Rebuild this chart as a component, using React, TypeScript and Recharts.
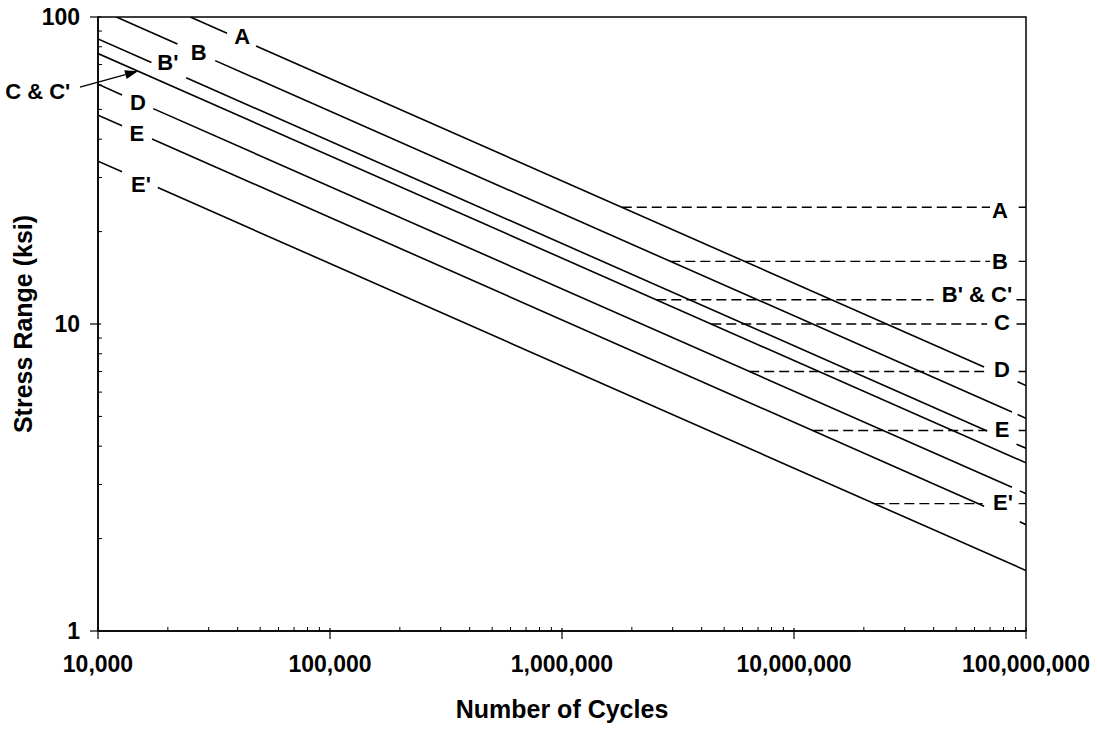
import { ComposedChart, Line, XAxis, YAxis, ReferenceDot, ReferenceLine, ReferenceArea } from 'recharts'

const FONT = '"Liberation Sans", Arial, Helvetica, sans-serif'

// S-N curves per detail category: [cycles, stress range ksi]; null breaks the line around a label
type Pt = [number, number] | null

const curveA: Pt[] = [[25000, 100], [36000, 88.5], null, [48000, 80.5], [66000000, 7.24], null, [92000000, 6.48], [100000000, 6.3]]
const curveB: Pt[] = [[12000, 100], [22000, 81.7], null, [32000, 72.1], [87000000, 5.17], null, [92000000, 5.07], [100000000, 4.93]]
const curveBPrime: Pt[] = [[10000, 84.8], [17000, 71.1], null, [24000, 63.4], [68000000, 4.48], null, [91000000, 4.06], [100000000, 3.94]]
const curveC: Pt[] = [[10000, 76.05], [100000000, 3.53]]
const curveD: Pt[] = [[10000, 60.4], [12700, 55.75], null, [17300, 50.3], [87000000, 2.94], null, [94000000, 2.86], [100000000, 2.8]]
const curveE: Pt[] = [[10000, 47.9], [12700, 44.25], null, [17100, 40.07], [66000000, 2.55], null, [94000000, 2.27], [100000000, 2.22]]
const curveEPrime: Pt[] = [[10000, 33.9], [12700, 31.32], null, [18100, 27.82], [100000000, 1.574]]

const curves = [curveA, curveB, curveBPrime, curveC, curveD, curveE, curveEPrime]

// constant amplitude fatigue thresholds (dashed), A, B, B'&C', C, D, E, E'
const thresholds = [24, 16, 12, 10, 7, 4.5, 2.6]
const thresholdStart = [1810000, 2930000, 2550000, 4400000, 6410000, 12100000, 22200000]
const thresholdGapFrom = [70000000, 70000000, 40000000, 68000000, 66000000, 68000000, 65000000]
const thresholdGapTo = [93000000, 93000000, 91000000, 91000000, 93000000, 93000000, 93000000]
const N_MAX = 100000000

// category labels anchored in data space
const leftLabels = [
  { text: 'A', n: 41800, s: 86.7 },
  { text: 'B', n: 27200, s: 76.9 },
  { text: "B'", n: 20000, s: 71.3 },
  { text: 'D', n: 14870, s: 52.8 },
  { text: 'E', n: 14700, s: 41.8 },
  { text: "E'", n: 15320, s: 28.5 },
]
const rightLabels = [
  { text: 'A', n: 77300000, s: 23.5 },
  { text: 'B', n: 77300000, s: 16.0 },
  { text: "B' & C'", n: 61500000, s: 12.5 },
  { text: 'C', n: 78800000, s: 10.1 },
  { text: 'D', n: 78800000, s: 7.1 },
  { text: 'E', n: 78800000, s: 4.53 },
  { text: "E'", n: 79600000, s: 2.62 },
]
const cLabel = { text: "C & C'", n: 5500, s: 57.5 }
const cArrow = { from: { n: 8360, s: 59.1 }, to: { n: 14870, s: 66.6 } }

const xMajor = [10000, 100000, 1000000, 10000000, 100000000]
const yMajor = [1, 10, 100]
const minorSteps = [2, 3, 4, 5, 6, 7, 8, 9]
const xMinor = xMajor.slice(0, -1).flatMap(d => minorSteps.map(m => d * m))
const yMinor = yMajor.slice(0, -1).flatMap(d => minorSteps.map(m => d * m))

const toSeries = (pts: Pt[]) => {
  const out: { n: number; s: number | null }[] = []
  pts.forEach((p, i) => {
    if (p) out.push({ n: p[0], s: p[1] })
    else out.push({ n: (pts[i - 1] as [number, number])[0], s: null })
  })
  return out
}

const thresholdSeries = thresholds.map((s, i) =>
  toSeries([[thresholdStart[i], s], [thresholdGapFrom[i], s], null, [thresholdGapTo[i], s], [N_MAX, s]])
)

const tickFont = { fontFamily: FONT, fontSize: 23, fontWeight: 700, fill: '#000' }
const titleFont = { fontFamily: FONT, fontSize: 25, fontWeight: 700, fill: '#000' }

const XTick = (props: any) => {
  const { x, y, payload } = props
  const v = payload.value
  if (xMajor.includes(v)) {
    return (
      <g>
        <line x1={x} x2={x} y1={y - 3} y2={y + 8} stroke="#000" strokeWidth={1.2} />
        <text x={x} y={y + 33} dy="0.36em" textAnchor="middle" style={tickFont}>
          {v.toLocaleString('en-US')}
        </text>
      </g>
    )
  }
  return <line x1={x} x2={x} y1={y} y2={y - 4} stroke="#000" strokeWidth={1} />
}

const YTick = (props: any) => {
  const { x, y, payload } = props
  const v = payload.value
  if (yMajor.includes(v)) {
    return (
      <g>
        <line x1={x - 8} x2={x + 3} y1={y} y2={y} stroke="#000" strokeWidth={1.2} />
        <text x={x - 18} y={y} dy="0.36em" textAnchor="end" style={tickFont}>
          {v}
        </text>
      </g>
    )
  }
  return <line x1={x} x2={x + 4} y1={y} y2={y} stroke="#000" strokeWidth={1} />
}

const ArrowShape = (props: any) => {
  const { x1, y1, x2, y2 } = props
  if (![x1, y1, x2, y2].every(Number.isFinite)) return null
  const ang = Math.atan2(y2 - y1, x2 - x1)
  const len = 13
  const half = 4.5
  const bx = x2 - len * Math.cos(ang)
  const by = y2 - len * Math.sin(ang)
  const px = -Math.sin(ang) * half
  const py = Math.cos(ang) * half
  return (
    <g>
      <line x1={x1} y1={y1} x2={bx} y2={by} stroke="#000" strokeWidth={1.4} />
      <polygon points={`${x2},${y2} ${bx + px},${by + py} ${bx - px},${by - py}`} fill="#000" />
    </g>
  )
}

const labelProps = (text: string) => ({
  value: text,
  position: 'center' as const,
  fill: '#000',
  fontSize: 22,
  fontWeight: 700,
  fontFamily: FONT,
})

export default function App() {
  return (
    <div style={{ position: 'absolute', left: 0, top: 0, background: '#fff' }}>
      <ComposedChart width={1097} height={729} margin={{ top: 17, right: 71, left: 0, bottom: 0 }}>
        <XAxis
          dataKey="n"
          type="number"
          scale="log"
          domain={[10000, 100000000]}
          allowDataOverflow
          ticks={[...xMajor, ...xMinor]}
          interval={0}
          tick={XTick}
          tickLine={false}
          tickSize={0}
          tickMargin={0}
          height={98}
          axisLine={{ stroke: '#000', strokeWidth: 1.5 }}
          label={{
            content: (p: any) => {
              const vb = p.viewBox ?? { x: 98, y: 631, width: 928, height: 98 }
              return (
                <text x={vb.x + vb.width / 2} y={vb.y + 78} dy="0.36em" textAnchor="middle" style={titleFont}>
                  Number of Cycles
                </text>
              )
            },
          }}
        />
        <YAxis
          type="number"
          scale="log"
          domain={[1, 100]}
          allowDataOverflow
          ticks={[...yMajor, ...yMinor]}
          interval={0}
          tick={YTick}
          tickLine={false}
          tickSize={0}
          tickMargin={0}
          width={98}
          axisLine={{ stroke: '#000', strokeWidth: 1.5 }}
          label={{
            content: (p: any) => {
              const vb = p.viewBox ?? { x: 0, y: 17, width: 98, height: 614 }
              const cx = vb.x + 23
              const cy = vb.y + vb.height / 2
              return (
                <text x={cx} y={cy} dy="0.36em" transform={`rotate(-90 ${cx} ${cy})`} textAnchor="middle" style={titleFont}>
                  Stress Range (ksi)
                </text>
              )
            },
          }}
        />
        <ReferenceArea x1={10000} x2={100000000} y1={1} y2={100} fill="none" stroke="#000" strokeWidth={1.5} />

        {curves.map((pts, i) => (
          <Line
            key={`curve-${i}`}
            data={toSeries(pts)}
            dataKey="s"
            stroke="#000"
            strokeWidth={1.6}
            dot={false}
            activeDot={false}
            connectNulls={false}
            isAnimationActive={false}
          />
        ))}
        {thresholdSeries.map((data, i) => (
          <Line
            key={`cafl-${i}`}
            data={data}
            dataKey="s"
            stroke="#000"
            strokeWidth={1.4}
            strokeDasharray="10 5"
            dot={false}
            activeDot={false}
            connectNulls={false}
            isAnimationActive={false}
          />
        ))}

        {[...leftLabels, ...rightLabels].map((l, i) => (
          <ReferenceDot key={`lbl-${i}`} x={l.n} y={l.s} r={0} fill="none" stroke="none" label={labelProps(l.text)} />
        ))}
        <ReferenceDot x={cLabel.n} y={cLabel.s} r={0} fill="none" stroke="none" ifOverflow="visible" label={labelProps(cLabel.text)} />
        <ReferenceLine
          segment={[{ x: cArrow.from.n, y: cArrow.from.s }, { x: cArrow.to.n, y: cArrow.to.s }]}
          ifOverflow="visible"
          shape={ArrowShape}
        />
      </ComposedChart>
    </div>
  )
}
